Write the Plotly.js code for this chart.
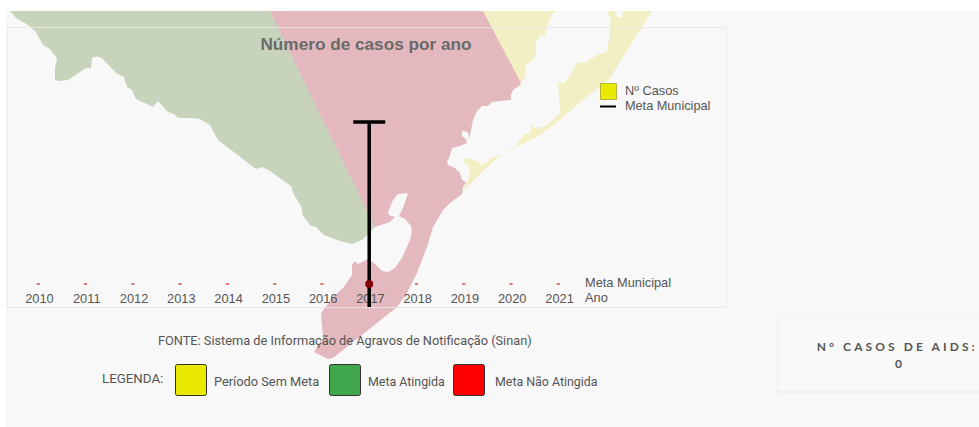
<!DOCTYPE html>
<html><head><meta charset="utf-8">
<script src="https://cdn.plot.ly/plotly-3.0.1.min.js"></script>
<style>html,body{margin:0;padding:0;background:#fff;overflow:hidden}#c{width:979px;height:427px}</style>
</head><body><div id="c"></div>
<script>
// chart data
const years = ['2010','2011','2012','2013','2014','2015','2016','2017','2018','2019','2020','2021'];
const casos = [0,0,0,0,0,0,0,0,0,0,0,0];
const metaAno = ['2017'];
const metaValor = [0];
const metaErro = [1];
const rowLabels = ['Meta Municipal','Ano'];
const legendLabels = ['Período Sem Meta','Meta Atingida','Meta Não Atingida'];
// background map outlines (image-space x / y)
const greenX = [10,16,28,36,43,50,57,55,55,60,68,76,86,91,92,97,102,116,124,127,132,136,145,153,158,168,174,178,190,200,210,218,256,262,270,278,287,291,294,301,303,311,316,324,332,340,352,362,368,376,272];
const greenY = [11,18,25,32,45,49,58,68,80,81,80,75,68,68,58,56.5,58,73,77,87,90,99,103,107,101,112,114,118,118,119,125,140,169,167,171,177,183,186,195,206,216,226,227,235,238,241,244,240,234,226,11];
const pinkX = [270,485,522,521,520,513,511,511,500,492,488,482,477,473,470,469,468,462,462,466,467,460,452,449,447,448,455,460,462,466,463,462,450,443,433,427,417,407,397,383,360,333,328,314,323,321,333,343,352,352,355,358,368,375,382,388,395,402,410,412,411,405,399,403,408,398,393,388,389,395,390,375];
const pinkY = [11,11,80,83,85,90,95,100,101,102,106,106,111,120,135,139,132,131,136,139,143,146,148,158,162,165,168,173,180,182,187,194,203,210,227,247,273,293,307,318,337,358,359,352,338,313,297,288,275,265,261,264,259,264,271,272,268,258,240,232,226,219,216,208,193,194,200,212,215,217,222,227];
const yellowX = [483,521,525,526,533,536,536,541,545,546,552,557,null,607,611,609,607,597,585,578,565,558,560,560,553,543,535,532,529,525,513,503,493,490,483,475,465,463,470,468,463,477,497,520,540,560,577,610,642,652,623,622,617,615];
const yellowY = [11,83,77,65,60,52,42,35,37,28,15,11,null,11,20,38,52,55,63,62,83,82,105,113,120,127,128,125,135,133,150,155,157,159,165,160,158,162,168,180,191,177,158,145,135,120,105,78,28,11,11,18,17,11];

const W = 979, H = 427;
const px = x => x / W, py = y => 1 - y / H;
const FONT = '"Liberation Sans", Arial, sans-serif';
const ROB = 'Roboto, Arial, sans-serif';
const GREY = '#555';

function region(x, y, color) {
  return {type:'scatter', mode:'lines', x, y, xaxis:'x', yaxis:'y', fill:'toself', fillcolor:color,
          line:{width:0, color:color}, hoverinfo:'skip', showlegend:false, connectgaps:false};
}
const traces = [
  region(greenX, greenY, 'rgb(200,211,187)'),
  region(pinkX, pinkY, 'rgb(227,184,190)'),
  region(yellowX, yellowY, 'rgb(243,239,196)'),
  // invisible carrier that keeps the year axis (tick labels) drawn
  {type:'scatter', mode:'markers', x:years, y:casos, xaxis:'x2', yaxis:'y2', marker:{size:1, opacity:0}, showlegend:false, hoverinfo:'skip'},
  {type:'bar', name:'Nº Casos', x:years, y:casos, xaxis:'x3', yaxis:'y2', width:0.065,
   marker:{color:'#eaea00', line:{color:'#d05050', width:1}}, showlegend:false},
  {type:'scatter', mode:'markers', name:'Meta Municipal', x:metaAno, y:metaValor, xaxis:'x3', yaxis:'y2',
   marker:{size:8, color:'rgb(130,0,10)'}, showlegend:false,
   error_y:{type:'data', array:metaErro, symmetric:true, color:'#000', thickness:3.5, width:16}}
];

function ann(text, x, y, size, family, anchor, color, bold) {
  return {text: bold ? '<b>'+text+'</b>' : text, x:px(x), y:py(y), xref:'paper', yref:'paper', showarrow:false,
          xanchor:anchor||'left', yanchor:'middle', borderpad:0, borderwidth:0,
          font:{size:size, family:family, color:color||GREY}};
}
function box(x0,y0,x1,y1,fill,line,w,layer) {
  return {type:'rect', xref:'paper', yref:'paper', x0:px(x0), x1:px(x1), y0:py(y0), y1:py(y1),
          fillcolor:fill, line:{color:line, width:w===undefined?1:w}, layer:layer||'above'};
}
function rbox(x0,y0,x1,y1,r,fill,line) {
  const X = v => px(v), Y = v => py(v);
  const path = `M${X(x0+r)},${Y(y0)} L${X(x1-r)},${Y(y0)} Q${X(x1)},${Y(y0)} ${X(x1)},${Y(y0+r)} L${X(x1)},${Y(y1-r)} Q${X(x1)},${Y(y1)} ${X(x1-r)},${Y(y1)} L${X(x0+r)},${Y(y1)} Q${X(x0)},${Y(y1)} ${X(x0)},${Y(y1-r)} L${X(x0)},${Y(y0+r)} Q${X(x0)},${Y(y0)} ${X(x0+r)},${Y(y0)} Z`;
  return {type:'path', xref:'paper', yref:'paper', path, fillcolor:fill, line:{color:line, width:1}, layer:'above'};
}
const layout = {
  width:W, height:H, margin:{l:0,r:0,t:0,b:0}, paper_bgcolor:'#fff', plot_bgcolor:'rgba(0,0,0,0)',
  showlegend:false, hovermode:false, bargap:0,
  title:{text:'Número de casos por ano', x:px(366), xanchor:'center', xref:'paper', y:py(44), yref:'paper', yanchor:'middle',
         font:{size:17.2, family:FONT, color:'#6a6a6a', weight:700}},
  xaxis:{domain:[0,1], range:[0,W], visible:false, fixedrange:true},
  yaxis:{domain:[0,1], range:[H,0], visible:false, fixedrange:true},
  xaxis2:{domain:[px(15.85),px(583.15)], type:'category', range:[-0.5,11.5], anchor:'free', position:py(289), categoryorder:'array', categoryarray:years,
          showgrid:false, zeroline:false, showline:false, ticks:'', tickfont:{size:12.8, family:FONT, color:GREY}, fixedrange:true},
  xaxis3:{domain:[px(14.65),px(581.95)], type:'category', range:[-0.5,11.5], anchor:'y2', categoryorder:'array', categoryarray:years, visible:false, fixedrange:true},
  yaxis2:{domain:[py(307),py(35)], range:[-23/162,249/162], anchor:'x3', visible:false, fixedrange:true},
  shapes:[
    box(6,11,979,427,'#f8f8f8','rgba(0,0,0,0)',0,'below'),
    box(7.5,27.5,726.5,307.5,'rgba(0,0,0,0)','rgba(232,232,232,0.85)',1),
    box(778,322,984,393,'#f2f2f2','#f2f2f2',1,'below'),
    box(778,320,984,391,'#f9f9f9','#ededed',1,'below'),
    box(600.5,83.5,616.5,99.5,'#eaea00','#b5b53c',1),
    {type:'line', xref:'paper', yref:'paper', x0:px(600), x1:px(616), y0:py(106.5), y1:py(106.5), line:{color:'#000',width:2}},
    rbox(175.5,364.5,206.5,395.5,2,'#eaea00','#333'),
    rbox(329.5,364.5,360.5,395.5,2,'#41a74c','#333'),
    rbox(453.5,364.5,484.5,395.5,2,'#ff0000','#333')
  ],
  annotations:[
    ann(rowLabels[0],585,282,12.8,FONT),
    ann(rowLabels[1],585,297.5,12.8,FONT),
    ann('Nº Casos',625,90.5,12.8,FONT),
    ann('Meta Municipal',625,106.5,12.7,FONT),
    ann('FONTE: Sistema de Informação de Agravos de Notificação (Sinan)',157.5,340,12.75,ROB),
    ann('LEGENDA:',102,378,13.3,ROB),
    ann(legendLabels[0],214,381,12.8,ROB),
    ann(legendLabels[1],368,381,12.4,ROB),
    ann(legendLabels[2],495,381,12.4,ROB),
    ann('N° CASOS DE AIDS:',897,346.5,12,'Lato, sans-serif','center',GREY,true),
    ann('0',898,363,12,'Lato, sans-serif','center',GREY,true)
  ]
};
Plotly.newPlot('c', traces, layout, {displayModeBar:false, staticPlot:true}).then(gd => {
  gd.querySelectorAll('.annotation-text').forEach(t => {
    if (t.textContent.indexOf('AIDS') >= 0) t.style.letterSpacing = '3.1px';
  });
});
</script></body></html>
